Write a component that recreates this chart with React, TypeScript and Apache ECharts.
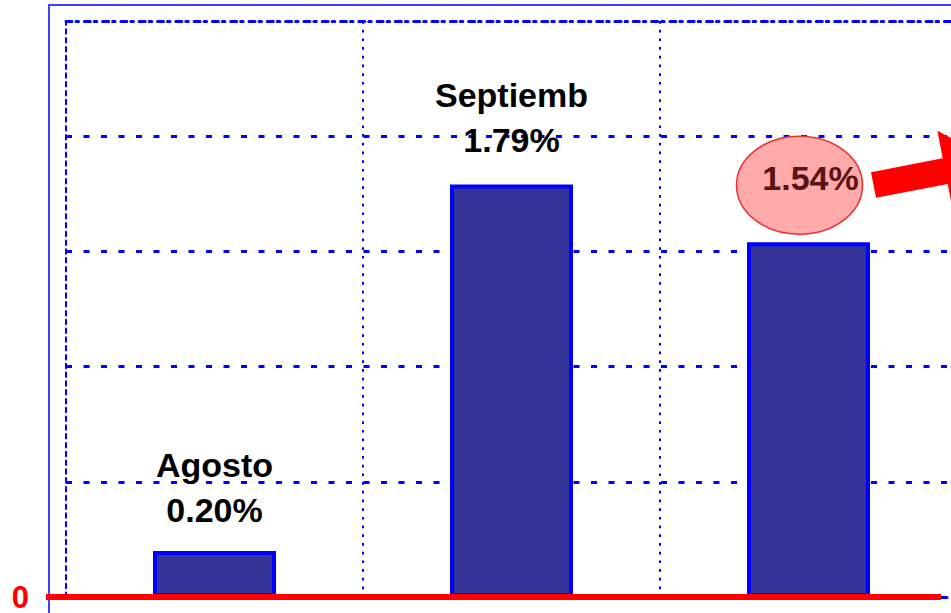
import React, { useEffect, useRef } from 'react';
import * as echarts from 'echarts';

const categories = ['Agosto', 'Septiemb', 'Octubre'];
const values = [0.2, 1.79, 1.54];
const yTicks = [0, 0.5, 1, 1.5, 2, 2.5];
const highlightIndex = 2;

const CHART_W = 1000;
const CHART_H = 613;

export default function App() {
  const ref = useRef<HTMLDivElement>(null);

  useEffect(() => {
    if (!ref.current) return;
    const chart = echarts.init(ref.current, null, { renderer: 'svg' });
    const blue = '#0000ff';
    const font = 'Liberation Sans, Arial, sans-serif';

    chart.setOption({
      animation: false,
      grid: { left: 66, right: CHART_W - 957, top: 21, bottom: 14 },
      xAxis: [
        {
          type: 'category',
          data: categories,
          boundaryGap: true,
          axisLine: { show: true, onZero: false, lineStyle: { color: blue, width: 3, type: [6, 11.5] } },
          axisTick: { show: false },
          axisLabel: { show: false },
          splitLine: {
            show: true,
            interval: 0,
            showMinLine: false,
            lineStyle: { color: blue, width: 2, type: [2.7, 6] },
          },
        },
        {
          type: 'category',
          data: categories,
          position: 'top',
          axisLine: { show: true, onZero: false, lineStyle: { color: blue, width: 3, type: [6, 4, 2.5, 5.8] } },
          axisTick: { show: false },
          axisLabel: { show: false },
          splitLine: { show: false },
        },
      ],
      yAxis: {
        type: 'value',
        min: yTicks[0],
        max: yTicks[yTicks.length - 1],
        interval: yTicks[1] - yTicks[0],
        axisLine: { show: true, lineStyle: { color: blue, width: 2, type: [4.5, 4.3] } },
        axisTick: { show: false },
        axisLabel: {
          formatter: (v: number) => (v === 0 ? '0' : ''),
          color: '#ff0000',
          fontSize: 31,
          lineHeight: 24,
          padding: [0, 0, 8, 0],
          fontWeight: 'bold',
          fontFamily: font,
          margin: 37,
        },
        splitLine: {
          show: true,
          showMinLine: false,
          showMaxLine: false,
          lineStyle: { color: blue, width: 3, type: [6, 11.5] },
        },
      },
      series: [
        {
          type: 'bar',
          barWidth: 123,
          data: values.map((v, i) => ({
            value: v,
            label: {
              show: i !== highlightIndex,
              distance: i === 1 ? 22 : 18,
            },
          })),
          itemStyle: { color: '#333399', borderColor: '#0000ff', borderWidth: 4 },
          label: {
            show: true,
            position: 'top',
            formatter: (p: any) => `${p.name}\n${Number(p.value).toFixed(2)}%`,
            color: '#000000',
            fontSize: 34,
            lineHeight: 45,
            fontWeight: 'bold',
            fontFamily: font,
          },
        },
      ],
    });

    const y0 = chart.convertToPixel({ yAxisIndex: 0 }, 0) as number;
    const top = chart.convertToPixel({ seriesIndex: 0 }, [
      highlightIndex,
      values[highlightIndex],
    ]) as number[];
    const cx = top[0] - 9;
    const cy = top[1] - 57;

    chart.setOption({
      graphic: [
        {
          type: 'rect',
          z: 0,
          shape: { x: 49, y: 5, width: 1200, height: 800 },
          style: { fill: 'none', stroke: '#4040ff', lineWidth: 2 },
          silent: true,
        },
        {
          type: 'line',
          z: 100,
          shape: { x1: 46, y1: y0, x2: 941, y2: y0 },
          style: { stroke: '#ff0000', lineWidth: 6 },
          silent: true,
        },
        {
          type: 'ellipse',
          z: 100,
          shape: { cx, cy, rx: 63, ry: 49 },
          style: { fill: '#ffaaaa', stroke: '#e83232', lineWidth: 1.5 },
          silent: true,
        },
        {
          type: 'text',
          z: 101,
          x: cx + 11,
          y: cy - 7,
          style: {
            text: `${values[highlightIndex].toFixed(2)}%`,
            fill: '#5a1414',
            font: `bold 34px ${font}`,
            align: 'center',
            verticalAlign: 'middle',
          },
          silent: true,
        },
        {
          type: 'polygon',
          z: 100,
          shape: {
            points: [
              [871, 172.2],
              [942.7, 158.3],
              [937.4, 130.8],
              [994, 161],
              [953, 211.4],
              [947.7, 183.9],
              [876, 197.8],
            ],
          },
          style: { fill: '#ff0000' },
          silent: true,
        },
      ],
    });

    return () => {
      chart.dispose();
    };
  }, []);

  return (
    <div
      style={{
        position: 'fixed',
        left: 0,
        top: 0,
        width: 951,
        height: 613,
        overflow: 'hidden',
        background: '#ffffff',
      }}
    >
      <div ref={ref} style={{ width: CHART_W, height: CHART_H }} />
    </div>
  );
}
